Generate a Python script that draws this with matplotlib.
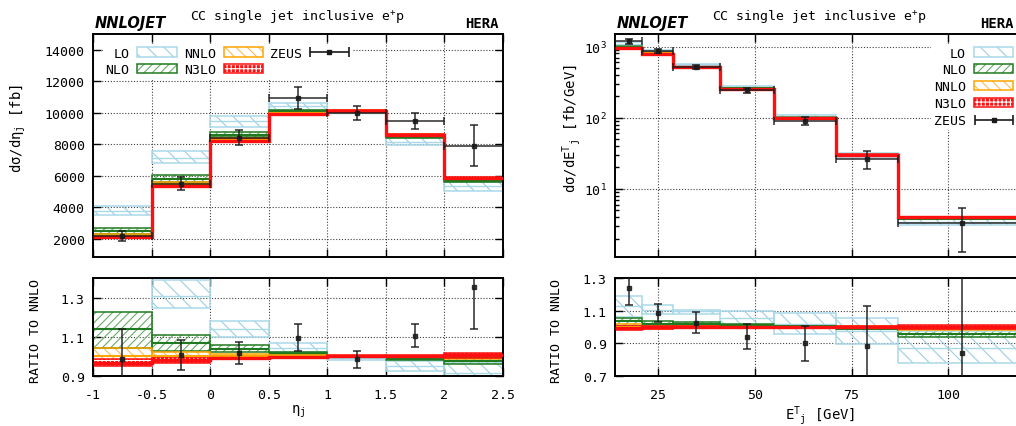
import numpy as np
import matplotlib
matplotlib.use("Agg")
import matplotlib.pyplot as plt
from matplotlib import font_manager as fm
from matplotlib.patches import Patch
from matplotlib.legend_handler import HandlerTuple, HandlerErrorbar
from matplotlib.container import ErrorbarContainer
from matplotlib.ticker import FixedLocator, MultipleLocator, FuncFormatter, LogLocator, NullFormatter

# ---------------- data: eta_j distribution ----------------
eta_edges = [-1.0, -0.5, 0.0, 0.5, 1.0, 1.5, 2.0, 2.5]
eta_nnlo = [2190, 5460, 8290, 9960, 10120, 8600, 5850]          # fb
eta_lo_c = [1.728, 1.310, 1.140, 1.045, 0.990, 0.950, 0.915]      # ratio to NNLO
eta_lo_lo = [1.595, 1.245, 1.097, 1.024, 0.984, 0.924, 0.866]
eta_lo_hi = [1.862, 1.390, 1.183, 1.066, 0.998, 0.979, 0.964]
eta_nlo_c = [1.140, 1.066, 1.036, 1.015, 0.995, 0.987, 0.975]
eta_nlo_lo = [1.045, 1.028, 1.024, 1.007, 0.990, 0.980, 0.962]
eta_nlo_hi = [1.226, 1.110, 1.057, 1.024, 1.000, 0.993, 0.990]
eta_nnlo_lo = [0.960, 0.975, 0.988, 0.992, 0.995, 0.995, 0.988]
eta_nnlo_hi = [1.041, 1.024, 1.014, 1.005, 1.004, 1.004, 1.005]
eta_n3lo_c = [0.967, 0.980, 0.993, 0.996, 1.002, 1.000, 1.005]
eta_n3lo_lo = [0.950, 0.967, 0.985, 0.990, 0.996, 0.994, 0.993]
eta_n3lo_hi = [0.985, 0.997, 1.003, 1.002, 1.008, 1.008, 1.016]
eta_zeus = [2165, 5500, 8420, 10920, 9980, 9500, 7925]
eta_zeus_err = [330, 415, 460, 700, 440, 500, 1270]

# ---------------- data: E^T_j distribution ----------------
et_edges = [14, 21, 29, 41, 55, 71, 87, 120]
et_nnlo = [965, 800, 510, 256, 100, 30.2, 3.97]                  # fb/GeV
et_lo_c = [1.130, 1.105, 1.095, 1.057, 1.020, 0.978, 0.870]
et_lo_lo = [1.060, 1.081, 1.081, 1.009, 0.958, 0.896, 0.782]
et_lo_hi = [1.190, 1.133, 1.106, 1.098, 1.086, 1.057, 0.978]
et_nlo_c = [1.034, 1.020, 1.020, 1.013, 1.005, 0.990, 0.955]
et_nlo_lo = [1.009, 1.009, 1.012, 1.006, 0.998, 0.985, 0.941]
et_nlo_hi = [1.055, 1.034, 1.028, 1.018, 1.012, 1.000, 0.985]
et_nnlo_lo = [0.985, 0.990, 0.993, 0.995, 0.995, 0.990, 0.980]
et_nnlo_hi = [1.020, 1.010, 1.007, 1.005, 1.005, 1.005, 1.000]
et_n3lo_c = [0.993, 0.997, 1.000, 1.000, 1.000, 1.000, 1.002]
et_n3lo_lo = [0.982, 0.990, 0.995, 0.995, 0.995, 0.995, 0.990]
et_n3lo_hi = [1.009, 1.005, 1.005, 1.005, 1.005, 1.008, 1.012]
et_zeus = [1195, 868, 523, 241, 90.0, 26.6, 3.33]
et_zeus_err = [100, 44, 33, 20, 10.7, 7.5, 2.05]

labels = ["LO", "NLO", "NNLO", "N3LO", "ZEUS"]

# ---------------- styles ----------------
MONO = "DejaVu Sans Mono"
plt.rcParams.update({
    "font.family": [MONO, "DejaVu Sans"],
    "font.size": 9.5,
    "mathtext.fontset": "custom",
    "mathtext.rm": MONO,
    "mathtext.it": MONO + ":italic",
    "mathtext.bf": MONO + ":bold",
    "mathtext.default": "regular",
    "hatch.linewidth": 0.8,
    "axes.linewidth": 1.4,
})

try:
    fm.findfont(fm.FontProperties(family="Liberation Sans Narrow", weight="bold", style="italic"),
                fallback_to_default=False)
    logo_font = dict(family="Liberation Sans Narrow", size=13.5)
except Exception:
    logo_font = dict(family="DejaVu Sans", size=10.5)

C_LO_E, C_LO_H = "#a9d8e8", "#9ccfe2"
C_NLO_E, C_NLO_H = "#1f7a1f", "#6aae6a"
C_NNLO_E, C_NNLO_H = "#ffa500", "#ffbb55"
C_N3LO = "#ff1010"
C_ZEUS = "#1a1a1a"

orders = [
    # name, edge, hatchcolor, hatch, face
    ("LO", C_LO_E, C_LO_H, "\\\\", "none"),
    ("NLO", C_NLO_E, C_NLO_H, "////", "none"),
    ("NNLO", C_NNLO_E, C_NNLO_H, "\\\\\\", "none"),
    ("N3LO", C_N3LO, "white", "++++", C_N3LO),
]


def draw_panel(ax, edges, nnlo, sets, zeus, zerr, ratio):
    edges = np.asarray(edges, float)
    left = edges[:-1]
    width = np.diff(edges)
    nnlo = np.asarray(nnlo, float)
    scale = np.ones_like(nnlo) if ratio else nnlo
    for (name, ec, hc, hatch, fc), (c, lo, hi) in zip(orders, sets):
        c, lo, hi = (np.asarray(v, float) * scale for v in (c, lo, hi))
        ax.bar(left, hi - lo, bottom=lo, width=width, align="edge",
               facecolor=fc, edgecolor=hc, hatch=hatch, linewidth=0, zorder=2)
        ax.bar(left, hi - lo, bottom=lo, width=width, align="edge",
               facecolor="none", edgecolor=ec, linewidth=1.1, zorder=2.1)
        if name == "N3LO":
            ax.stairs(c, edges, baseline=None, color=C_N3LO, linewidth=2.4, zorder=3)
        else:
            ax.hlines(c, left, edges[1:], colors=ec,
                      linewidth=1.0 if name == "LO" else 1.5, zorder=2.2)
    mid = 0.5 * (edges[:-1] + edges[1:])
    z = np.asarray(zeus, float)
    ze = np.asarray(zerr, float)
    if ratio:
        ax.errorbar(mid, z / nnlo, yerr=ze / nnlo, fmt="s", ms=2.2, color=C_ZEUS,
                    elinewidth=1.2, capsize=3, capthick=1.2, alpha=0.85, zorder=5)
    else:
        ax.errorbar(mid, z, yerr=ze, xerr=width / 2, fmt="s", ms=2.2, color=C_ZEUS,
                    elinewidth=1.2, capsize=2.6, capthick=1.2, alpha=0.85, zorder=5)


def style_axes(ax):
    ax.tick_params(which="both", direction="in", top=True, right=True, width=1.0)
    ax.tick_params(which="major", length=6)
    ax.tick_params(which="minor", length=3)
    ax.grid(True, which="major", color="0.25", linestyle=(0, (1, 1.6)), linewidth=0.8)
    ax.set_axisbelow(True)


W, H = 1016, 427
fig = plt.figure(figsize=(W / 100, H / 100), dpi=100)


def px_axes(x0, y0, x1, y1):
    return fig.add_axes([x0 / W, 1 - y1 / H, (x1 - x0) / W, (y1 - y0) / H])


axL = px_axes(93, 35, 503, 258)
axLr = px_axes(93, 279, 503, 377)
axR = px_axes(615, 35, 1026, 258)
axRr = px_axes(615, 279, 1026, 377)

eta_sets = [(eta_lo_c, eta_lo_lo, eta_lo_hi), (eta_nlo_c, eta_nlo_lo, eta_nlo_hi),
            ([1.0] * 7, eta_nnlo_lo, eta_nnlo_hi), (eta_n3lo_c, eta_n3lo_lo, eta_n3lo_hi)]
et_sets = [(et_lo_c, et_lo_lo, et_lo_hi), (et_nlo_c, et_nlo_lo, et_nlo_hi),
           ([1.0] * 7, et_nnlo_lo, et_nnlo_hi), (et_n3lo_c, et_n3lo_lo, et_n3lo_hi)]

draw_panel(axL, eta_edges, eta_nnlo, eta_sets, eta_zeus, eta_zeus_err, False)
draw_panel(axLr, eta_edges, eta_nnlo, eta_sets, eta_zeus, eta_zeus_err, True)
draw_panel(axR, et_edges, et_nnlo, et_sets, et_zeus, et_zeus_err, False)
draw_panel(axRr, et_edges, et_nnlo, et_sets, et_zeus, et_zeus_err, True)

for ax in (axL, axLr, axR, axRr):
    style_axes(ax)

# left panels
for ax in (axL, axLr):
    ax.set_xlim(-1, 2.5)
    ax.xaxis.set_major_locator(MultipleLocator(0.5))
axL.set_ylim(850, 15000)
axL.yaxis.set_major_locator(MultipleLocator(2000))
axL.set_xticklabels([])
axLr.set_ylim(0.9, 1.4)
axLr.yaxis.set_major_locator(FixedLocator([0.9, 1.1, 1.3]))
axLr.xaxis.set_major_formatter(FuncFormatter(lambda v, p: "%g" % v))

# right panels
for ax in (axR, axRr):
    ax.set_xlim(14, 120)
    ax.xaxis.set_major_locator(MultipleLocator(25))
axR.set_yscale("log")
axR.set_ylim(1.1, 1500)
axR.yaxis.set_major_locator(FixedLocator([10, 100, 1000]))
axR.yaxis.set_major_formatter(FuncFormatter(lambda v, p: "10$^{%d}$" % round(np.log10(v))))
axR.yaxis.set_minor_locator(LogLocator(base=10, subs=np.arange(2, 10)))
axR.yaxis.set_minor_formatter(NullFormatter())
axR.set_xticklabels([])
axRr.set_ylim(0.7, 1.3)
axRr.yaxis.set_major_locator(FixedLocator([0.7, 0.9, 1.1, 1.3]))

for ax in (axL, axLr, axR, axRr):
    ax.tick_params(axis="y", pad=6)
for ax in (axLr, axRr):
    ax.tick_params(axis="x", pad=9)

# axis labels
axL.set_ylabel("dσ/dη$_{j}$ [fb]", fontsize=10)
axL.yaxis.set_label_coords(-0.158, 0.58)
axR.set_ylabel("dσ/dE$^{T}{}_{j}$ [fb/GeV]", fontsize=10)
axR.yaxis.set_label_coords(-0.078, 0.58)
axLr.set_ylabel("RATIO TO NNLO", fontsize=9.5)
axLr.yaxis.set_label_coords(-0.124, 0.47)
axRr.set_ylabel("RATIO TO NNLO", fontsize=9.5)
axRr.yaxis.set_label_coords(-0.127, 0.47)
axLr.set_xlabel("η$_{j}$", fontsize=10, labelpad=1)
axRr.set_xlabel("E$^{T}{}_{j}$ [GeV]", fontsize=10, labelpad=1)

# titles
for x_logo, x_title, x_hera in ((95, 297.5, 499), (617, 819.5, 1014)):
    fig.text(x_logo / W, 1 - 28 / H, "NNLOJET", fontweight="bold", fontstyle="italic",
             ha="left", va="baseline", **logo_font)
    fig.text(x_title / W, 1 - 20 / H, "CC single jet inclusive e$^{+}$p", fontsize=9.5,
             ha="center", va="baseline")
    fig.text(x_hera / W, 1 - 28 / H, "HERA", fontsize=10, fontweight="bold",
             ha="right", va="baseline")

# legends
hatch_handles = []
for name, ec, hc, hatch, fc in orders:
    h1 = Patch(facecolor=fc, edgecolor=hc, hatch=hatch, linewidth=0)
    h2 = Patch(facecolor="none", edgecolor=ec, linewidth=1.1)
    hatch_handles.append((h1, h2))


def zeus_handle(ax):
    eb = ax.errorbar([np.nan], [np.nan], xerr=[1.0], fmt="s", ms=2.2, color=C_ZEUS,
                     elinewidth=1.2, capsize=3.5, capthick=1.2)
    return eb


zL = zeus_handle(axL)
zR = zeus_handle(axR)
hmap = {tuple: HandlerTuple(ndivide=1), ErrorbarContainer: HandlerErrorbar(xerr_size=1.45)}
legkw = dict(markerfirst=False, handlelength=3.0, handleheight=0.7, handletextpad=0.6,
             fontsize=9.5, frameon=True, fancybox=False, framealpha=1.0, handler_map=hmap,
             borderpad=0.2, borderaxespad=0.75, labelspacing=0.3)
legL = axL.legend(hatch_handles + [zL], labels, loc="upper left", ncol=3,
                  columnspacing=0.5, **legkw)
legR = axR.legend(hatch_handles + [zR], labels, loc="upper right", ncol=1,
                  bbox_to_anchor=(1.0, 1.0), **legkw)
for lg in (legL, legR):
    lg.get_frame().set_linewidth(0)
    lg.get_frame().set_edgecolor("none")
    lg.set_zorder(10)

fig.savefig("out.png", dpi=100)
